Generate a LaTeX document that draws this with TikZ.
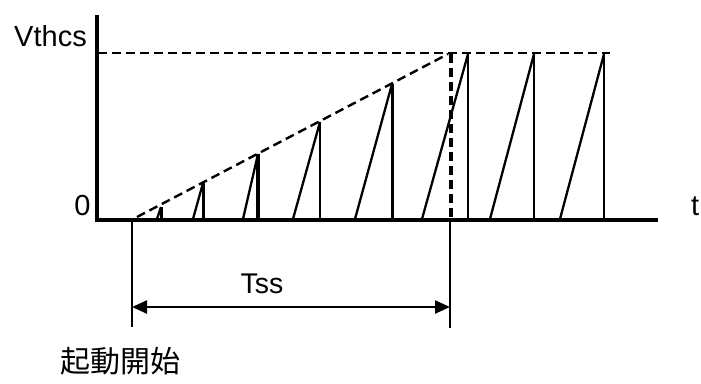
\documentclass[tikz,border=0pt]{standalone}
\usepackage{fontspec}
\setmainfont{Liberation Sans}
\newfontfamily\jpfont{Noto Sans CJK JP}
\usetikzlibrary{arrows.meta}
\begin{document}
\begin{tikzpicture}[x=1pt,y=-1pt,
  axisline/.style={line width=4pt},
  sawline/.style={line width=2.3pt,line join=miter},
  envdash/.style={line width=2.4pt,dash pattern=on 9pt off 5pt},
  markline/.style={line width=2.2pt},
  lbl/.style={inner sep=0pt,font=\fontsize{29}{32}\selectfont},
  dimarrow/.style={line width=2.4pt,{Triangle[length=15pt,width=13pt]}-{Triangle[length=15pt,width=13pt]}}]
\useasboundingbox (0,0) rectangle (701,383);
% coordinates
\coordinate (ytop) at (97,15);
\coordinate (origin) at (97,220);
\coordinate (xend) at (658,220);
\coordinate (ss) at (137,217);
\coordinate (sspeak) at (448,54);
\coordinate (vt0) at (98,53);
\coordinate (vt1) at (610,53);
\coordinate (tssTop) at (451,54);
\coordinate (tssBot) at (451,220);
\coordinate (la) at (132,220);
\coordinate (lb) at (132,327);
\coordinate (ra) at (450,220);
\coordinate (rb) at (450,328);
\coordinate (aL) at (132,307);
\coordinate (aR) at (450,307);
% dashed reference lines
\draw[envdash] (vt0) -- (vt1);
\draw[envdash] (ss) -- (sspeak);
\draw[envdash,line width=3.5pt] (tssTop) -- (tssBot);
% sawtooth
\foreach \s/\px/\py/\w in {157/161/207/3, 193/203/183/3, 243/258/154/3.2, 293/320/122/2.2, 355/392/84/3, 422/468/54/2.2, 490/534/54/2.2, 560/604/54/2.2}{
  \draw[sawline] (\s,219) -- (\px,\py);
  \draw[line width=\w pt] (\px,\py) -- (\px,219);
}
% axes
\draw[axisline] (ytop) -- (origin) -- (xend);
% Tss dimension
\draw[markline] (la) -- (lb);
\draw[markline] (ra) -- (rb);
\draw[dimarrow] (aL) -- (aR);
% labels
\node[lbl,anchor=base] (vthcs) at (50.5,46) {Vthcs};
\node[lbl,anchor=base] (zero) at (82.5,215) {0};
\node[lbl,anchor=base west] (tlab) at (691,215) {t};
\node[lbl,anchor=base,font=\fontsize{28.5}{32}\selectfont] (tss) at (262,293) {Tss};
\node[inner sep=0pt,font=\jpfont\fontsize{30}{34}\selectfont] (start) at (120,361) {起動開始};
\end{tikzpicture}
\end{document}
